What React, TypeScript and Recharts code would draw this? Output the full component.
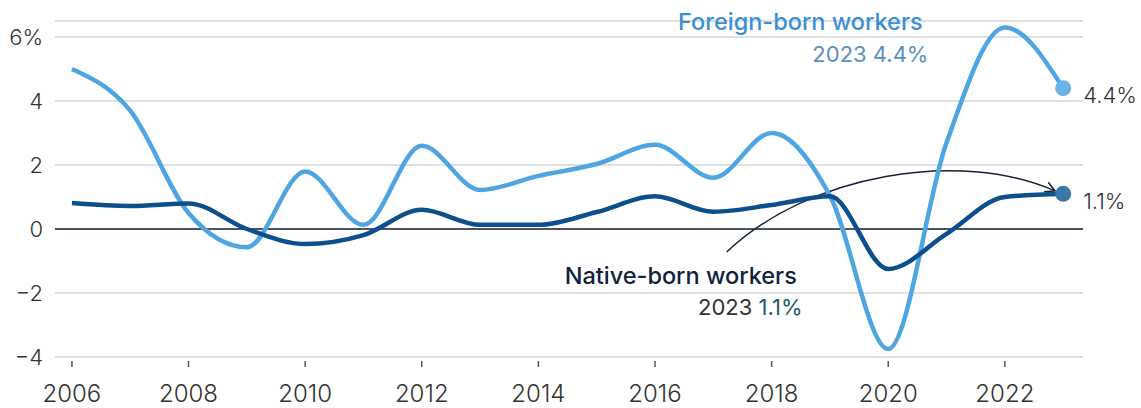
import React from 'react';
import { LineChart, Line, XAxis, YAxis, CartesianGrid, ReferenceLine, ReferenceDot } from 'recharts';

const years = [2006, 2007, 2008, 2009, 2010, 2011, 2012, 2013, 2014, 2015, 2016, 2017, 2018, 2019, 2020, 2021, 2022, 2023];
const foreignBorn = [5.0, 3.7, 0.5, -0.57, 1.8, 0.13, 2.6, 1.22, 1.66, 2.03, 2.63, 1.6, 3.0, 1.04, -3.75, 2.7, 6.3, 4.4];
const nativeBorn = [0.81, 0.72, 0.8, 0.0, -0.47, -0.19, 0.6, 0.13, 0.13, 0.53, 1.02, 0.54, 0.75, 1.02, -1.25, -0.15, 1.0, 1.1];
const xTicks = [2006, 2008, 2010, 2012, 2014, 2016, 2018, 2020, 2022];
const yTicks = [-4, -2, 0, 2, 4, 6];

const data = years.map((year, i) => ({ year, foreign: foreignBorn[i], native: nativeBorn[i] }));

const FONT = 'Inter, "Open Sans", sans-serif';
const FOREIGN = '#4ea5e2';
const NATIVE = '#0c4f8c';

const XTick = (props: any) => {
  const { x, y, payload } = props;
  return (
    <g>
      <line x1={x} x2={x} y1={y + 4} y2={y + 10} stroke="#555" strokeWidth={1.5} />
      <text x={x} y={y + 45} textAnchor="middle" fontSize={24} fontWeight={300} fill="#333" fontFamily={FONT}>
        {payload.value}
      </text>
    </g>
  );
};

const YTick = (props: any) => {
  const { y, payload } = props;
  const v = payload.value;
  const label = v === 6 ? '6%' : v < 0 ? `\u2212${Math.abs(v)}` : String(v);
  return (
    <text x={43} y={y + 8} textAnchor="end" fontSize={22} fontWeight={300} fill="#333" fontFamily={FONT}>
      {label}
    </text>
  );
};

const endDot = (color: string, label: string) => (props: any) => {
  const { cx, cy, index } = props;
  if (index !== data.length - 1) return <g key={`d${index}`} />;
  return (
    <g key={`d${index}`}>
      <circle cx={cx} cy={cy} r={8} fill={color} />
      <text x={cx + 20} y={cy + 15} fontSize={22} fontWeight={300} fill="#333" fontFamily={FONT}>
        {label}
      </text>
    </g>
  );
};

const ArrowShape = (props: any) => {
  const { x1, y1, x2, y2 } = props;
  const dx = x2 - x1;
  const c1x = x1 + dx * 0.25;
  const c1y = y1 - 78;
  const c2x = x1 + dx * 0.71;
  const c2y = y2 - 42;
  const ang = Math.atan2(y2 - c2y, x2 - c2x);
  const len = 11;
  const a1 = ang + Math.PI - 0.5;
  const a2 = ang + Math.PI + 0.5;
  return (
    <g>
      <path d={`M${x1},${y1} C${c1x},${c1y} ${c2x},${c2y} ${x2},${y2}`} fill="none" stroke="#16213a" strokeWidth={1.5} />
      <path
        d={`M${x2 + len * Math.cos(a1)},${y2 + len * Math.sin(a1)} L${x2},${y2} L${x2 + len * Math.cos(a2)},${y2 + len * Math.sin(a2)}`}
        fill="none"
        stroke="#16213a"
        strokeWidth={1.5}
      />
    </g>
  );
};

const TextAt = (lines: { text: string; color: string }[], opts: { anchor: string; size: number; weight: number }) => (props: any) => (
  <text x={props.cx} y={props.cy} textAnchor={opts.anchor} fontSize={opts.size} fontWeight={opts.weight} fontFamily={FONT}>
    {lines.map((l, i) => (
      <tspan key={i} fill={l.color}>
        {l.text}
      </tspan>
    ))}
  </text>
);

export default function App() {
  return (
    <div style={{ position: 'absolute', left: 0, top: 0, background: '#fff' }}>
      <LineChart width={1141} height={408} data={data} margin={{ top: 21, right: 58, left: 0, bottom: 11 }}>
        <CartesianGrid vertical={false} stroke="#d4d6da" strokeWidth={1.5} />
        <XAxis
          dataKey="year"
          type="number"
          domain={[2005.71, 2023.34]}
          ticks={xTicks}
          axisLine={false}
          tickLine={false}
          tickSize={0}
          tickMargin={0}
          height={40}
          tick={<XTick />}
          interval={0}
        />
        <YAxis
          type="number"
          domain={[-4, 6.5]}
          ticks={yTicks}
          axisLine={false}
          tickLine={false}
          width={55}
          tick={<YTick />}
          interval={0}
        />
        <ReferenceLine y={0} stroke="#1b2438" strokeWidth={1.5} />
        <ReferenceLine
          segment={[{ x: 2017.23, y: -0.72 }, { x: 2022.86, y: 1.19 }]}
          shape={<ArrowShape />}
        />
        <Line
          type="monotone"
          dataKey="foreign"
          stroke={FOREIGN}
          strokeWidth={4.5}
          dot={endDot('#6cb2e6', '4.4%')}
          activeDot={false}
          isAnimationActive={false}
        />
        <Line
          type="monotone"
          dataKey="native"
          stroke={NATIVE}
          strokeWidth={4.5}
          dot={endDot('#3a78a8', '1.1%')}
          activeDot={false}
          isAnimationActive={false}
        />
        <ReferenceDot
          x={2020.59}
          y={6.22}
          r={0}
          shape={TextAt([{ text: 'Foreign-born workers', color: '#3b8fd3' }], { anchor: 'end', size: 23.5, weight: 500 })}
        />
        <ReferenceDot
          x={2020.69}
          y={5.22}
          r={0}
          shape={TextAt([{ text: '2023 4.4%', color: '#5a90c2' }], { anchor: 'end', size: 22, weight: 400 })}
        />
        <ReferenceDot
          x={2014.45}
          y={-1.72}
          r={0}
          shape={TextAt([{ text: 'Native-born workers', color: '#10223d' }], { anchor: 'start', size: 23.5, weight: 500 })}
        />
        <ReferenceDot
          x={2018.53}
          y={-2.69}
          r={0}
          shape={TextAt([{ text: '2023 ', color: '#333' }, { text: '1.1%', color: '#1f5a68' }], { anchor: 'end', size: 22, weight: 400 })}
        />
      </LineChart>
    </div>
  );
}
